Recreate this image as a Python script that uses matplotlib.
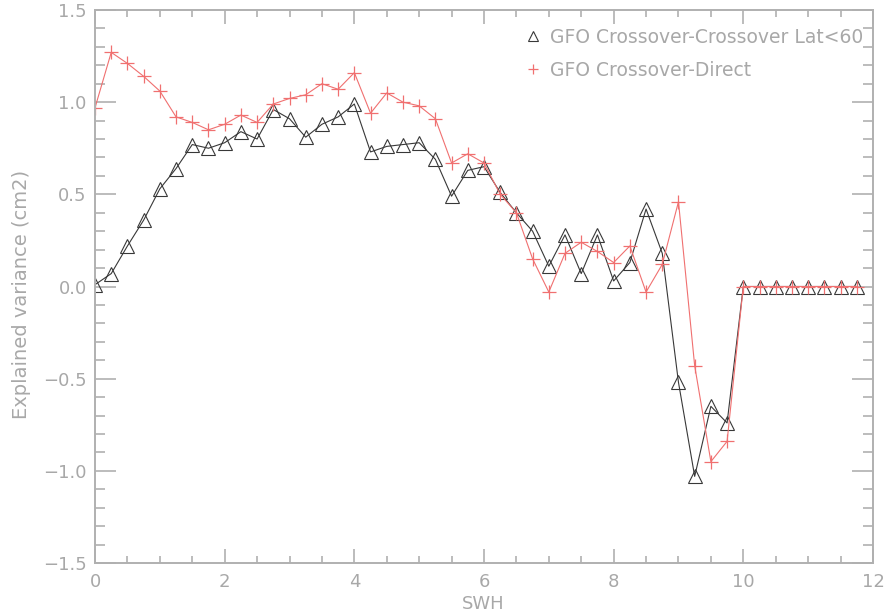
import numpy as np
import matplotlib
matplotlib.use("Agg")
import matplotlib.pyplot as plt
from matplotlib.ticker import MultipleLocator, FuncFormatter

# SWH bins (m)
swh = [0.0, 0.25, 0.5, 0.75, 1.0, 1.25, 1.5, 1.75, 2.0, 2.25, 2.5, 2.75,
       3.0, 3.25, 3.5, 3.75, 4.0, 4.25, 4.5, 4.75, 5.0, 5.25, 5.5, 5.75,
       6.0, 6.25, 6.5, 6.75, 7.0, 7.25, 7.5, 7.75, 8.0, 8.25, 8.5, 8.75,
       9.0, 9.25, 9.5, 9.75, 10.0, 10.25, 10.5, 10.75, 11.0, 11.25, 11.5, 11.75]

# Explained variance, crossover-crossover (lat < 60)
xover_xover = [0.01, 0.07, 0.22, 0.36, 0.53, 0.64, 0.77, 0.75, 0.78, 0.84, 0.80, 0.96,
               0.91, 0.81, 0.88, 0.92, 0.99, 0.73, 0.76, 0.77, 0.78, 0.69, 0.49, 0.63,
               0.65, 0.51, 0.40, 0.30, 0.11, 0.28, 0.07, 0.28, 0.03, 0.13, 0.42, 0.18,
               -0.52, -1.03, -0.65, -0.74, 0.0, 0.0, 0.0, 0.0, 0.0, 0.0, 0.0, 0.0]

# Explained variance, crossover-direct
xover_direct = [0.97, 1.27, 1.21, 1.14, 1.06, 0.92, 0.89, 0.85, 0.88, 0.93, 0.89, 0.99,
                1.02, 1.04, 1.10, 1.07, 1.16, 0.94, 1.05, 1.00, 0.98, 0.91, 0.67, 0.72,
                0.67, 0.50, 0.40, 0.15, -0.03, 0.18, 0.24, 0.19, 0.13, 0.22, -0.03, 0.12,
                0.46, -0.43, -0.95, -0.84, 0.0, 0.0, 0.0, 0.0, 0.0, 0.0, 0.0, 0.0]

label_xx = "GFO Crossover-Crossover Lat<60"
label_xd = "GFO Crossover-Direct"

axis_col = "#b0b0b0"
text_col = "#a8a8a8"
red = "#f07070"
black = "#383838"

fig = plt.figure(figsize=(8.84, 6.16), dpi=100)
ax = fig.add_axes([0.1075, 0.086, 0.88, 0.8978])

ax.plot(swh, xover_xover, color=black, lw=0.8, marker="^", ms=10,
        mfc="none", mec=black, mew=0.8, label=label_xx)
ax.plot(swh, xover_direct, color=red, lw=0.8, marker="+", ms=10,
        mec=red, mew=0.9, label=label_xd)

ax.set_xlim(0, 12)
ax.set_ylim(-1.5, 1.5)
ax.xaxis.set_major_locator(MultipleLocator(2))
ax.xaxis.set_minor_locator(MultipleLocator(0.5))
ax.yaxis.set_major_locator(MultipleLocator(0.5))
ax.yaxis.set_minor_locator(MultipleLocator(0.1))
ax.xaxis.set_major_formatter(FuncFormatter(lambda v, p: f"{v:.0f}"))
ax.yaxis.set_major_formatter(FuncFormatter(
    lambda v, p: f"{v:.1f}".replace("-", "\u2212")))

ax.tick_params(which="both", direction="in", top=True, right=True,
               color=axis_col, labelcolor=text_col, labelsize=13, width=1.2)
ax.tick_params(axis="x", which="major", length=10, pad=7)
ax.tick_params(axis="x", which="minor", length=5)
ax.tick_params(axis="y", which="major", length=15, pad=6)
ax.tick_params(axis="y", which="minor", length=7)
for s in ax.spines.values():
    s.set_color(axis_col)
    s.set_linewidth(1.4)

ax.set_xlabel("SWH", color=text_col, fontsize=13)
ax.set_ylabel("Explained variance (cm2)", color=text_col, fontsize=14)
ax.xaxis.set_label_coords(0.499, -0.058)
ax.yaxis.set_label_coords(-0.094, 0.486)
ax.yaxis.label.set_va("center")

leg = ax.legend(loc="upper left", bbox_to_anchor=(0.556, 0.968), frameon=False,
                fontsize=13.5, handlelength=0.6, handletextpad=0.6,
                labelspacing=0.75, borderpad=0, borderaxespad=0,
                markerscale=0.65, labelcolor=text_col)
for h in leg.legend_handles:
    h.set_linestyle("none")

fig.savefig("out.png", dpi=100, facecolor="white")
